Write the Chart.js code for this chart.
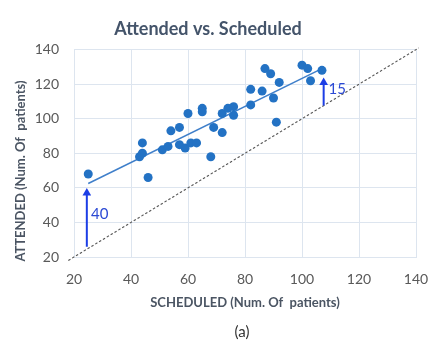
<!DOCTYPE html>
<html><head><meta charset="utf-8">
<script src="https://cdn.jsdelivr.net/npm/chart.js@4/dist/chart.umd.min.js"></script>
<style>
html,body{margin:0;padding:0;background:#fff;}
#wrap{position:relative;width:433px;height:349px;overflow:hidden;}
#c{position:absolute;left:0;top:0;}
#cap{position:absolute;left:212px;width:60px;top:322px;text-align:center;font:15px Lato,sans-serif;color:#333;}
</style></head><body>
<div id="wrap"><canvas id="c" width="433" height="349"></canvas><div id="cap">(a)</div></div>
<script>
// Data
const scheduled = [25,43,44,44,46,51,53,54,57,57,59,60,61,63,65,65,68,69,72,72,74,76,76,82,82,86,87,89,90,91,92,100,102,103,107];
const attended  = [68,78,80,86,66,82,84,93,95,85,83,103,86,86,106,104,78,95,103,92,106,107,102,117,108,116,129,126,112,98,121,131,129,122,128];
const trendX = [25,107];
const trendY = [62.5,129];
const diagX = [18,141];
const diagY = [18,141];
const arrow1X = [24.5,24.5];
const arrow1Y = [26,57];
const arrow2X = [107.6,107.6];
const arrow2Y = [107.6,121];
const noteText = ['40','15'];
const noteX = [26,109.3];
const noteY = [45,117];
const xTicks = [20,40,60,80,100,120,140];
const yTicks = [20,40,60,80,100,120,140];
const chartTitle = 'Attended vs. Scheduled';
const xTitle = 'SCHEDULED (Num. Of  patients)';
const yTitle = 'ATTENDED (Num. Of  patients)';

const pts = (xs, ys) => xs.map((v,i)=>({x:v,y:ys[i]}));
const FONT = 'Lato, "Open Sans", sans-serif';

const overlay = {
  id:'overlay',
  afterDatasetsDraw(chart){
    const {ctx, scales:{x,y}} = chart;
    ctx.save();
    ctx.font = '15px ' + FONT;
    ctx.fillStyle = '#2b49d4';
    ctx.textAlign = 'left'; ctx.textBaseline = 'middle';
    noteText.forEach((t,i)=>ctx.fillText(t, x.getPixelForValue(noteX[i]), y.getPixelForValue(noteY[i])));
    ctx.restore();
    ctx.save();
    ctx.translate(21, 171);
    ctx.rotate(-Math.PI/2);
    ctx.font = 'bold 13px ' + FONT;
    ctx.fillStyle = '#4b5563';
    ctx.textAlign = 'center'; ctx.textBaseline = 'middle';
    ctx.fillText(yTitle, 0, 0);
    ctx.restore();
  }
};

new Chart(document.getElementById('c'), {
  type:'scatter',
  data:{datasets:[
    {data:pts(scheduled,attended), pointRadius:4.5, pointHoverRadius:4.5, backgroundColor:'#2372c4', borderWidth:0, order:1},
    {data:pts(trendX,trendY), showLine:true, pointRadius:0, borderColor:'#3f7fca', borderWidth:1.5, order:2},
    {data:pts(diagX,diagY), showLine:true, pointRadius:0, borderColor:'#555555', borderWidth:1.1, borderDash:[2.5,2], clip:false, order:3},
    {data:pts(arrow1X,arrow1Y), showLine:true, borderColor:'#1c3ee6', borderWidth:2, pointRadius:[0,5], pointStyle:'triangle', backgroundColor:'#1c3ee6', pointBorderWidth:0, order:0},
    {data:pts(arrow2X,arrow2Y), showLine:true, borderColor:'#1c3ee6', borderWidth:2, pointRadius:[0,5], pointStyle:'triangle', backgroundColor:'#1c3ee6', pointBorderWidth:0, order:0}
  ]},
  options:{
    responsive:false, animation:false, devicePixelRatio:1,
    layout:{padding:{left:0,right:17,top:0,bottom:0}},
    plugins:{
      legend:{display:false}, tooltip:{enabled:false},
      title:{display:true, text:chartTitle, color:'#44546a', font:{family:FONT,size:18,weight:'bold'}, padding:{top:18,bottom:10}}
    },
    scales:{
      x:{type:'linear', min:20, max:140,
        afterBuildTicks:s=>{s.ticks = xTicks.map(v=>({value:v}));},
        afterFit:s=>{s.height = 92; s.paddingRight = 0; s.paddingLeft = 0;},
        grid:{color:'#dde5ef', drawTicks:false},
        border:{color:'#dde5ef'},
        ticks:{color:'#595959', font:{family:FONT,size:14},padding:14},
        title:{display:true, text:xTitle, color:'#4b5563', font:{family:FONT,size:13,weight:'bold'}, padding:{top:0,bottom:38}}
      },
      y:{type:'linear', min:20, max:140,
        afterBuildTicks:s=>{s.ticks = yTicks.map(v=>({value:v}));},
        afterFit:s=>{s.width = 74; s.paddingTop = 0; s.paddingBottom = 0;},
        grid:{color:'#dde5ef', drawTicks:false},
        border:{color:'#dde5ef'},
        ticks:{color:'#595959', font:{family:FONT,size:14}, padding:15}
      }
    }
  },
  plugins:[overlay]
});
</script>
</body></html>
